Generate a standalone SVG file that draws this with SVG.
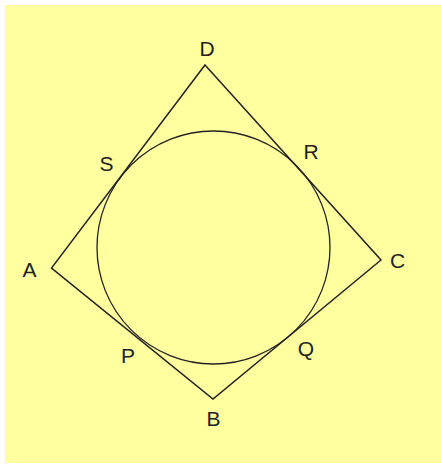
<svg xmlns="http://www.w3.org/2000/svg" width="441" height="464" viewBox="0 0 441 464">
<style>
.lbl{font-family:"Liberation Sans",Arial,sans-serif;font-size:21px;fill:#222;text-anchor:middle}
.edge{stroke:#222;stroke-width:1.5;fill:none;stroke-linejoin:miter}
</style>
<rect x="0" y="0" width="441" height="464" fill="#ffffff"/>
<rect x="5" y="5" width="436" height="458" fill="#ffffa0"/>
<g id="connectors">
<polygon class="edge" points="205,65 381,260 213,399 51.5,268"/>
</g>
<g id="circle"><circle cx="213.5" cy="247.5" r="116.5" fill="none" stroke="#222" stroke-width="1.3"/></g>
<g id="D"><text class="lbl" x="207" y="56">D</text></g>
<g id="S"><text class="lbl" x="106.5" y="170.5">S</text></g>
<g id="R"><text class="lbl" x="311" y="159">R</text></g>
<g id="A"><text class="lbl" x="29.5" y="277">A</text></g>
<g id="C"><text class="lbl" x="397.5" y="268">C</text></g>
<g id="P"><text class="lbl" x="128" y="363">P</text></g>
<g id="Q"><text class="lbl" x="306" y="356">Q</text></g>
<g id="B"><text class="lbl" x="213.5" y="426">B</text></g>
</svg>
